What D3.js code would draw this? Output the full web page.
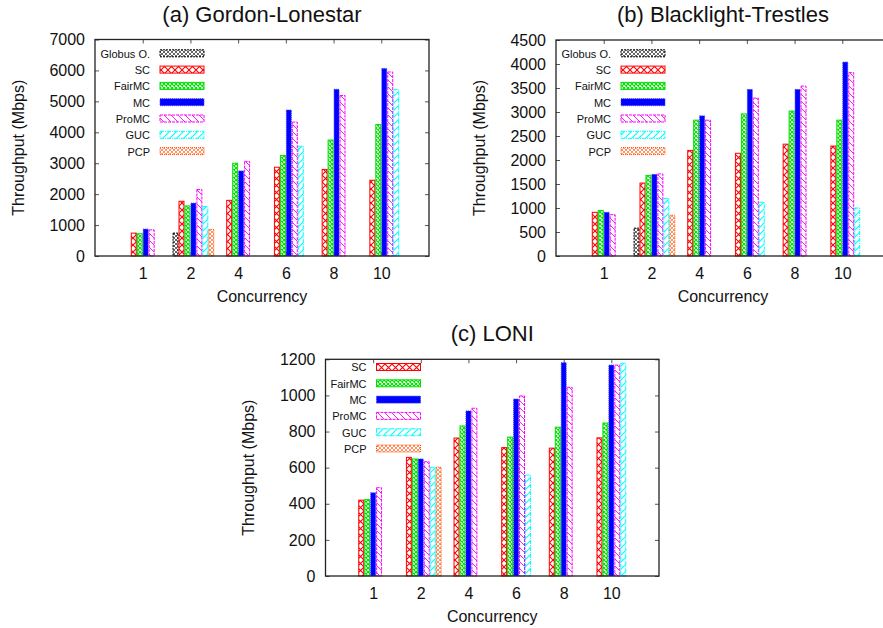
<!DOCTYPE html>
<html lang="en">
<head>
    <meta charset="UTF-8">
    <title>Throughput vs Concurrency</title>
    <script src="https://d3js.org/d3.v7.min.js"></script>
    <style>
        body { margin: 0; background: white; }
        text { font-family: "Liberation Sans", Arial, Helvetica, sans-serif; fill: #111; }
        .tick text { font-size: 16px; }
        .tick line { stroke: #555; stroke-width: 1; }
        .title { font-size: 22px; }
        .axis-label { font-size: 16px; }
        .legend text { font-size: 11px; }
    </style>
</head>
<body>
    <svg width="883" height="628"></svg>
    <script>
        const concurrency = ["1", "2", "4", "6", "8", "10"];

        // (a) Gordon-Lonestar
        const gordonGlobus = [0, 740, 0, 0, 0, 0];
        const gordonSC     = [740, 1770, 1800, 2870, 2800, 2450];
        const gordonFairMC = [720, 1620, 3000, 3250, 3750, 4250];
        const gordonMC     = [870, 1710, 2750, 4720, 5390, 6060];
        const gordonProMC  = [845, 2150, 3060, 4330, 5190, 5950];
        const gordonGUC    = [0, 1600, 0, 3550, 0, 5380];
        const gordonPCP    = [0, 860, 0, 0, 0, 0];

        // (b) Blacklight-Trestles
        const blacklightGlobus = [0, 580, 0, 0, 0, 0];
        const blacklightSC     = [910, 1520, 2200, 2140, 2330, 2290];
        const blacklightFairMC = [950, 1680, 2830, 2960, 3020, 2830];
        const blacklightMC     = [910, 1700, 2920, 3470, 3470, 4040];
        const blacklightProMC  = [860, 1710, 2830, 3290, 3540, 3820];
        const blacklightGUC    = [0, 1200, 0, 1120, 0, 1000];
        const blacklightPCP    = [0, 850, 0, 0, 0, 0];

        // (c) LONI
        const loniSC     = [420, 657, 764, 711, 708, 765];
        const loniFairMC = [423, 648, 831, 769, 824, 847];
        const loniMC     = [461, 648, 914, 980, 1181, 1168];
        const loniProMC  = [489, 633, 929, 997, 1045, 1168];
        const loniGUC    = [0, 602, 0, 559, 0, 1178];
        const loniPCP    = [0, 602, 0, 0, 0, 0];

        const gordonTicks = d3.range(0, 7001, 1000);
        const blacklightTicks = d3.range(0, 4501, 500);
        const loniTicks = d3.range(0, 1201, 200);

        const svg = d3.select("svg");
        const defs = svg.append("defs");

        // fill patterns, roughly like gnuplot's
        function pattern(id, size, color, paths, sw) {
            const p = defs.append("pattern")
                .attr("id", id)
                .attr("patternUnits", "userSpaceOnUse")
                .attr("width", size)
                .attr("height", size);
            p.append("rect").attr("width", size).attr("height", size).attr("fill", "white");
            paths.forEach(d => p.append("path").attr("d", d)
                .attr("stroke", color).attr("stroke-width", sw).attr("fill", "none"));
        }
        pattern("p-globus", 4, "#000", ["M0,0L4,4M0,4L4,0"], 0.6);
        pattern("p-sc", 7, "#ff0000", ["M0,0L7,7M0,7L7,0"], 1.1);
        pattern("p-fair", 4, "#00e000", ["M0,0L4,4M0,4L4,0"], 1.1);
        pattern("p-pro", 7, "#ff00ff", ["M0,0L7,7M-1,6L1,8M6,-1L8,1"], 0.9);
        pattern("p-guc", 7, "#00ffff", ["M0,7L7,0M-1,1L1,-1M6,8L8,6"], 1.1);
        pattern("p-pcp", 4, "#ff4d00", ["M0,0L4,4M0,4L4,0"], 0.6);

        const styles = {
            "Globus O.": { fill: "url(#p-globus)", stroke: "#000", dash: "2,1" },
            "SC":        { fill: "url(#p-sc)", stroke: "#ff0000", dash: null },
            "FairMC":    { fill: "url(#p-fair)", stroke: "#00e000", dash: null },
            "MC":        { fill: "#0000ff", stroke: "#3a3aff", dash: "1,1" },
            "ProMC":     { fill: "url(#p-pro)", stroke: "#ff00ff", dash: "3,1" },
            "GUC":       { fill: "url(#p-guc)", stroke: "#00ffff", dash: "4,1,1,1" },
            "PCP":       { fill: "url(#p-pcp)", stroke: "#ff4d00", dash: "1,1" }
        };

        const panels = [
            {
                title: "(a) Gordon-Lonestar",
                left: 95, right: 429, top: 39.5, bottom: 256,
                max: 7000, ticks: gordonTicks, offset: 3,
                legendTop: 53.3,
                series: [
                    ["Globus O.", gordonGlobus], ["SC", gordonSC], ["FairMC", gordonFairMC],
                    ["MC", gordonMC], ["ProMC", gordonProMC], ["GUC", gordonGUC], ["PCP", gordonPCP]
                ]
            },
            {
                title: "(b) Blacklight-Trestles",
                left: 556, right: 890, top: 40, bottom: 256,
                max: 4500, ticks: blacklightTicks, offset: 3,
                legendTop: 53.3,
                series: [
                    ["Globus O.", blacklightGlobus], ["SC", blacklightSC], ["FairMC", blacklightFairMC],
                    ["MC", blacklightMC], ["ProMC", blacklightProMC], ["GUC", blacklightGUC], ["PCP", blacklightPCP]
                ]
            },
            {
                title: "(c) LONI",
                left: 325.5, right: 659, top: 359.3, bottom: 576,
                max: 1200, ticks: loniTicks, offset: 2.5,
                legendTop: 367,
                legendShift: -14,
                series: [
                    ["SC", loniSC], ["FairMC", loniFairMC], ["MC", loniMC],
                    ["ProMC", loniProMC], ["GUC", loniGUC], ["PCP", loniPCP]
                ]
            }
        ];

        panels.forEach(p => {
            const g = svg.append("g");
            const x = d3.scaleLinear().domain([-1, 6]).range([p.left, p.right]);
            const y = d3.scaleLinear().domain([0, p.max]).range([p.bottom, p.top]);
            const w = (x(1) - x(0)) / 8;
            const idx = d3.range(concurrency.length);

            // ticks (inward, mirrored on all sides)
            g.append("g").attr("transform", `translate(${p.left},0)`)
                .call(d3.axisLeft(y).tickValues(p.ticks).tickFormat(d3.format("d")).tickSize(-4).tickPadding(10))
                .call(a => a.select(".domain").remove());
            g.append("g").attr("transform", `translate(${p.right},0)`)
                .call(d3.axisRight(y).tickValues(p.ticks).tickSize(-4).tickFormat(""))
                .call(a => a.select(".domain").remove());
            g.append("g").attr("transform", `translate(0,${p.bottom})`)
                .call(d3.axisBottom(x).tickValues(idx).tickFormat(i => concurrency[i]).tickSize(-4).tickPadding(12))
                .call(a => a.select(".domain").remove());
            g.append("g").attr("transform", `translate(0,${p.top})`)
                .call(d3.axisTop(x).tickValues(idx).tickSize(-4).tickFormat(""))
                .call(a => a.select(".domain").remove());

            // bars
            p.series.forEach(([name, values], j) => {
                const st = styles[name];
                g.append("g").selectAll("rect")
                    .data(values.map((v, i) => ({ v, i })).filter(d => d.v > 0))
                    .join("rect")
                    .attr("x", d => x(d.i) + (j - p.offset) * w + 0.5)
                    .attr("y", d => y(d.v))
                    .attr("width", w - 1)
                    .attr("height", d => y(0) - y(d.v))
                    .attr("fill", st.fill)
                    .attr("stroke", st.stroke)
                    .attr("stroke-width", 1)
                    .attr("stroke-dasharray", st.dash);
            });

            // frame
            g.append("rect")
                .attr("x", p.left).attr("y", p.top)
                .attr("width", p.right - p.left).attr("height", p.bottom - p.top)
                .attr("fill", "none").attr("stroke", "#222").attr("stroke-width", 1.3);

            // legend
            const shift = p.legendShift || 0;
            const leg = g.append("g").attr("class", "legend");
            p.series.forEach(([name], j) => {
                const st = styles[name];
                const cy = p.legendTop + j * 16.3;
                leg.append("text")
                    .attr("x", p.left + 55 + shift)
                    .attr("y", cy)
                    .attr("dy", "0.4em")
                    .attr("text-anchor", "end")
                    .text(name);
                leg.append("rect")
                    .attr("x", p.left + 65 + shift)
                    .attr("y", cy - 3.5)
                    .attr("width", 44)
                    .attr("height", 7)
                    .attr("fill", st.fill)
                    .attr("stroke", st.stroke)
                    .attr("stroke-width", 1)
                    .attr("stroke-dasharray", st.dash);
            });

            // labels
            const cx = (p.left + p.right) / 2;
            g.append("text").attr("class", "title")
                .attr("x", cx).attr("y", p.top - 18)
                .attr("text-anchor", "middle")
                .text(p.title);
            g.append("text").attr("class", "axis-label")
                .attr("x", cx).attr("y", p.bottom + 46)
                .attr("text-anchor", "middle")
                .text("Concurrency");
            g.append("text").attr("class", "axis-label")
                .attr("transform", `translate(${p.left - 77},${(p.top + p.bottom) / 2}) rotate(-90)`)
                .attr("dy", "0.35em")
                .attr("text-anchor", "middle")
                .text("Throughput (Mbps)");
        });
    </script>
</body>
</html>
